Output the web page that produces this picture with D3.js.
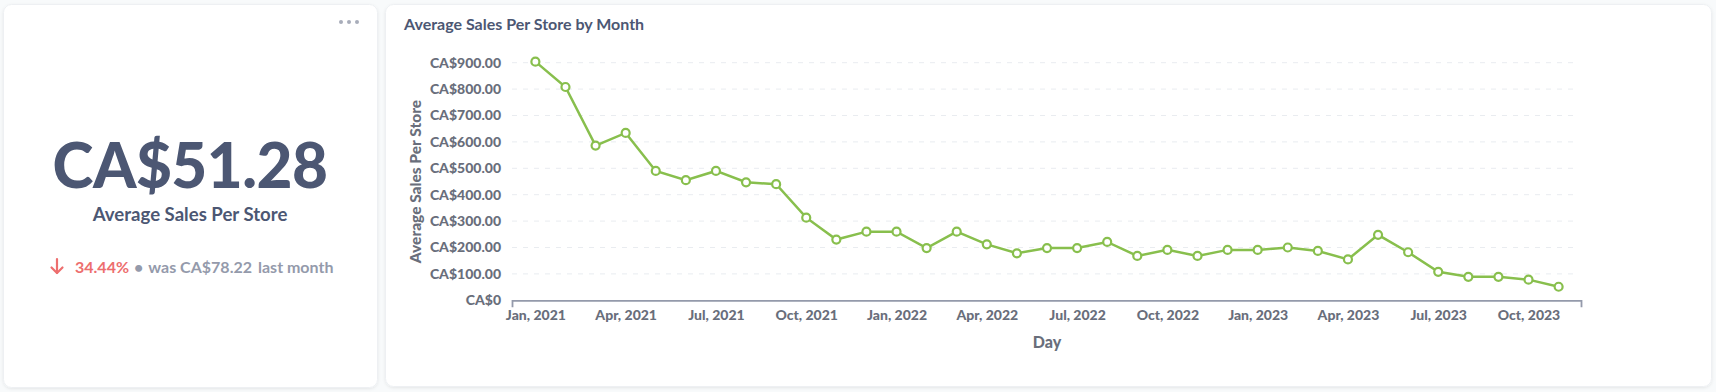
<!DOCTYPE html>
<html>
<head>
<meta charset="utf-8">
<script src="https://cdn.jsdelivr.net/npm/d3@7"></script>
<style>
  html, body { margin: 0; padding: 0; background: #f8fafb; }
  svg { display: block; font-family: Lato, "Noto Sans", sans-serif; }
</style>
</head>
<body>
<svg id="chart" width="1716" height="392"></svg>
<script>
// ---- data ----
const months = [
  "2021-01","2021-02","2021-03","2021-04","2021-05","2021-06","2021-07","2021-08","2021-09","2021-10","2021-11","2021-12",
  "2022-01","2022-02","2022-03","2022-04","2022-05","2022-06","2022-07","2022-08","2022-09","2022-10","2022-11","2022-12",
  "2023-01","2023-02","2023-03","2023-04","2023-05","2023-06","2023-07","2023-08","2023-09","2023-10","2023-11"
];
const avgSales = [
  904, 808, 586, 634, 490, 455, 490, 447, 440, 313, 230, 260,
  260, 198, 260, 212, 178, 198, 198, 221, 168, 191, 168, 191,
  191, 200, 187, 155, 248, 182, 108, 89, 89, 78.22, 51.28
];
const yTicks = [0, 100, 200, 300, 400, 500, 600, 700, 800, 900];
const xTickMonths = ["2021-01","2021-04","2021-07","2021-10","2022-01","2022-04","2022-07","2022-10","2023-01","2023-04","2023-07","2023-10"];
const xTickLabels = ["Jan, 2021","Apr, 2021","Jul, 2021","Oct, 2021","Jan, 2022","Apr, 2022","Jul, 2022","Oct, 2022","Jan, 2023","Apr, 2023","Jul, 2023","Oct, 2023"];
const kpiValue = "CA$51.28";
const kpiTitle = "Average Sales Per Store";
const kpiChange = "34.44%";
const kpiPrev = "was CA$78.22";
const kpiPeriod = "last month";
const chartTitle = "Average Sales Per Store by Month";
const yAxisTitle = "Average Sales Per Store";
const xAxisTitle = "Day";

const svg = d3.select("#chart");
const defs = svg.append("defs");
const f = defs.append("filter").attr("id","shadow").attr("x","-5%").attr("y","-5%").attr("width","110%").attr("height","115%");
f.append("feDropShadow").attr("dx",0).attr("dy",1).attr("stdDeviation",1.5).attr("flood-color","#000").attr("flood-opacity",0.08);

// ---- cards ----
svg.append("rect").attr("x",3.5).attr("y",4.5).attr("width",374).attr("height",383)
  .attr("rx",8).attr("fill","#fff").attr("stroke","#eef0f3").attr("filter","url(#shadow)");
svg.append("rect").attr("x",385.5).attr("y",4.5).attr("width",1326).attr("height",382)
  .attr("rx",8).attr("fill","#fff").attr("stroke","#eef0f3").attr("filter","url(#shadow)");

// ---- KPI card ----
const dots = svg.append("g").attr("fill","#a8adba");
[341, 349, 357].forEach(x => dots.append("circle").attr("cx",x).attr("cy",22).attr("r",2));

svg.append("text").attr("x",190).attr("y",188).attr("text-anchor","middle")
  .attr("font-size",62).attr("font-weight",900).attr("fill","#4c5773").attr("letter-spacing","-0.5")
  .text(kpiValue);
svg.append("text").attr("x",190).attr("y",221).attr("text-anchor","middle")
  .attr("font-size",18.6).attr("font-weight",700).attr("fill","#4c5773")
  .text(kpiTitle);

// arrow
const arrow = svg.append("g").attr("stroke","#ed6e6e").attr("stroke-width",2.2).attr("fill","none").attr("stroke-linecap","round").attr("stroke-linejoin","round");
arrow.append("line").attr("x1",57).attr("y1",259).attr("x2",57).attr("y2",273);
arrow.append("polyline").attr("points","51.5,267.5 57,273 62.5,267.5");

const cmp = svg.append("text").attr("x",75).attr("y",272.5).attr("font-size",16);
cmp.append("tspan").attr("font-weight",700).attr("fill","#ed6e6e").text(kpiChange);
cmp.append("tspan").attr("fill","#949aab").attr("font-weight",700).attr("dx",5).text("•");
cmp.append("tspan").attr("fill","#949aab").attr("font-weight",700).attr("dx",5).text(kpiPrev);
cmp.append("tspan").attr("fill","#949aab").attr("font-weight",700).attr("dx",6).text(kpiPeriod);

// ---- line chart ----
svg.append("text").attr("x",404).attr("y",30).attr("font-size",16).attr("font-weight",700)
  .attr("fill","#4c5773").text(chartTitle);

const axisLeft = 512, axisRight = 1582;
const y = d3.scaleLinear().domain([0, 900]).range([300.3, 62.7]);
const x = d3.scalePoint().domain(months).range([axisLeft, axisRight]).padding(0.777);

// gridlines
const grid = svg.append("g");
grid.selectAll("line").data(yTicks.filter(d => d > 0)).join("line")
  .attr("x1", axisLeft).attr("x2", 1577)
  .attr("y1", d => y(d)).attr("y2", d => y(d))
  .attr("stroke","#e9ecf0").attr("stroke-width",1).attr("stroke-dasharray","5,6");

// y axis
const fmt = d => d === 0 ? "CA$0" : "CA$" + d3.format(",.2f")(d);
const yAxis = svg.append("g").attr("transform", `translate(${axisLeft - 11},0)`)
  .call(d3.axisLeft(y).tickValues(yTicks).tickFormat(fmt).tickSize(0).tickPadding(0));
yAxis.select(".domain").remove();
yAxis.selectAll("text").attr("font-family","Lato, sans-serif").attr("font-size",14)
  .attr("font-weight",900).attr("fill","#696e7b");

// x axis
const xAxis = svg.append("g").attr("transform", `translate(0,${y(0)})`)
  .call(d3.axisBottom(x).tickValues(xTickMonths).tickFormat(d => xTickLabels[xTickMonths.indexOf(d)]).tickSize(0).tickPadding(10));
xAxis.select(".domain").remove();
xAxis.selectAll("text").attr("font-family","Lato, sans-serif").attr("font-size",14)
  .attr("font-weight",900).attr("fill","#696e7b");
svg.append("path")
  .attr("d", `M${axisLeft + 0.5},${y(0) + 7}V${y(0) + 0.5}H${axisRight - 0.5}V${y(0) + 7}`)
  .attr("fill","none").attr("stroke","#949aab").attr("stroke-width",1.8);

// axis titles
svg.append("text").attr("transform", `translate(421,${(y(0) + y(900)) / 2}) rotate(-90)`)
  .attr("text-anchor","middle").attr("font-size",15.5).attr("font-weight",900).attr("fill","#696e7b")
  .text(yAxisTitle);
svg.append("text").attr("x",(axisLeft + axisRight) / 2).attr("y",348).attr("text-anchor","middle")
  .attr("font-size",16).attr("font-weight",900).attr("fill","#696e7b").text(xAxisTitle);

// line + points
const line = d3.line().x((d,i) => x(months[i])).y(d => y(d));
svg.append("path").datum(avgSales).attr("d", line)
  .attr("fill","none").attr("stroke","#88bf4d").attr("stroke-width",2.5);
svg.append("g").selectAll("circle").data(avgSales).join("circle")
  .attr("cx",(d,i) => x(months[i])).attr("cy", d => y(d)).attr("r",4)
  .attr("fill","#fff").attr("stroke","#88bf4d").attr("stroke-width",2.2);
</script>
</body>
</html>
